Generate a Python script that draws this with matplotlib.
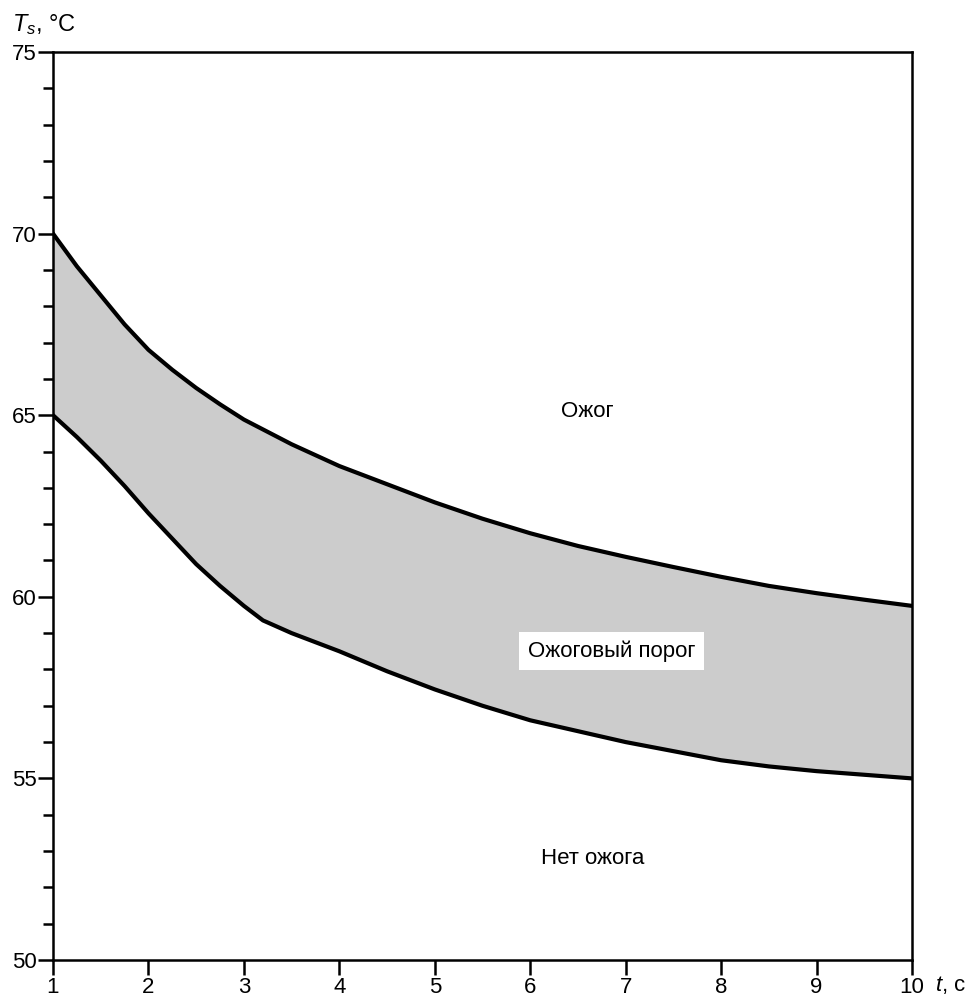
import numpy as np
import matplotlib.pyplot as plt
from matplotlib.ticker import MultipleLocator

plt.rcParams['font.family'] = ['Liberation Sans', 'DejaVu Sans']
plt.rcParams['mathtext.fontset'] = 'custom'
plt.rcParams['mathtext.it'] = 'Liberation Sans:italic'
plt.rcParams['mathtext.rm'] = 'Liberation Sans'

# верхняя граница порога ожога
t_upper = [1, 1.25, 1.5, 1.75, 2, 2.25, 2.5, 2.75, 3, 3.5, 4, 4.5, 5, 5.5, 6,
           6.5, 7, 7.5, 8, 8.5, 9, 9.5, 10]
T_upper = [70, 69.1, 68.3, 67.5, 66.8, 66.25, 65.75, 65.3, 64.88, 64.2, 63.6,
           63.1, 62.6, 62.15, 61.75, 61.4, 61.1, 60.82, 60.55, 60.3, 60.1, 59.92,
           59.75]

# нижняя граница порога ожога
t_lower = [1, 1.25, 1.5, 1.75, 2, 2.25, 2.5, 2.75, 3, 3.2, 3.5, 4, 4.5, 5, 5.5,
           6, 6.5, 7, 7.5, 8, 8.5, 9, 9.5, 10]
T_lower = [65, 64.4, 63.75, 63.05, 62.3, 61.6, 60.9, 60.3, 59.75, 59.35, 59.0,
           58.5, 57.95, 57.45, 57.0, 56.6, 56.3, 56.0, 55.75, 55.5, 55.33, 55.2,
           55.1, 55.0]

x_ticks = list(range(1, 11))
y_ticks = [50, 55, 60, 65, 70, 75]

fig = plt.figure(figsize=(9.74, 9.99), dpi=100)
ax = fig.add_axes([53 / 974, 1 - 960 / 999, (912 - 53) / 974, (960 - 52) / 999])

# заливка между кривыми
t_fill = np.union1d(t_upper, t_lower)
up_f = np.interp(t_fill, t_upper, T_upper)
lo_f = np.interp(t_fill, t_lower, T_lower)
ax.fill_between(t_fill, lo_f, up_f, color='#cccccc', linewidth=0)
ax.plot(t_upper, T_upper, color='black', lw=3, solid_joinstyle='round')
ax.plot(t_lower, T_lower, color='black', lw=3, solid_joinstyle='round')

ax.set_xlim(1, 10)
ax.set_ylim(50, 75)
ax.set_xticks(x_ticks)
ax.set_yticks(y_ticks)
ax.yaxis.set_minor_locator(MultipleLocator(1))
for s in ax.spines.values():
    s.set_linewidth(1.8)
ax.tick_params(axis='both', which='major', direction='out', length=11, width=1.8,
               labelsize=16, pad=1)
ax.tick_params(axis='y', which='minor', direction='out', length=7, width=1.8)

ax.text(6.6, 65.1, 'Ожог', fontsize=16, ha='center', va='center')
ax.text(6.85, 58.5, 'Ожоговый порог', fontsize=16, ha='center', va='center',
        bbox=dict(facecolor='white', edgecolor='none', pad=6))
ax.text(6.65, 52.8, 'Нет ожога', fontsize=16, ha='center', va='center')

fig.text(12 / 974, 1 - 25 / 999, r'$T_s$, °C', fontsize=17, ha='left', va='center')
fig.text(935 / 974, 1 - 985 / 999, r'$t$, c', fontsize=16, ha='left', va='center')

fig.savefig('out.png', dpi=100)
